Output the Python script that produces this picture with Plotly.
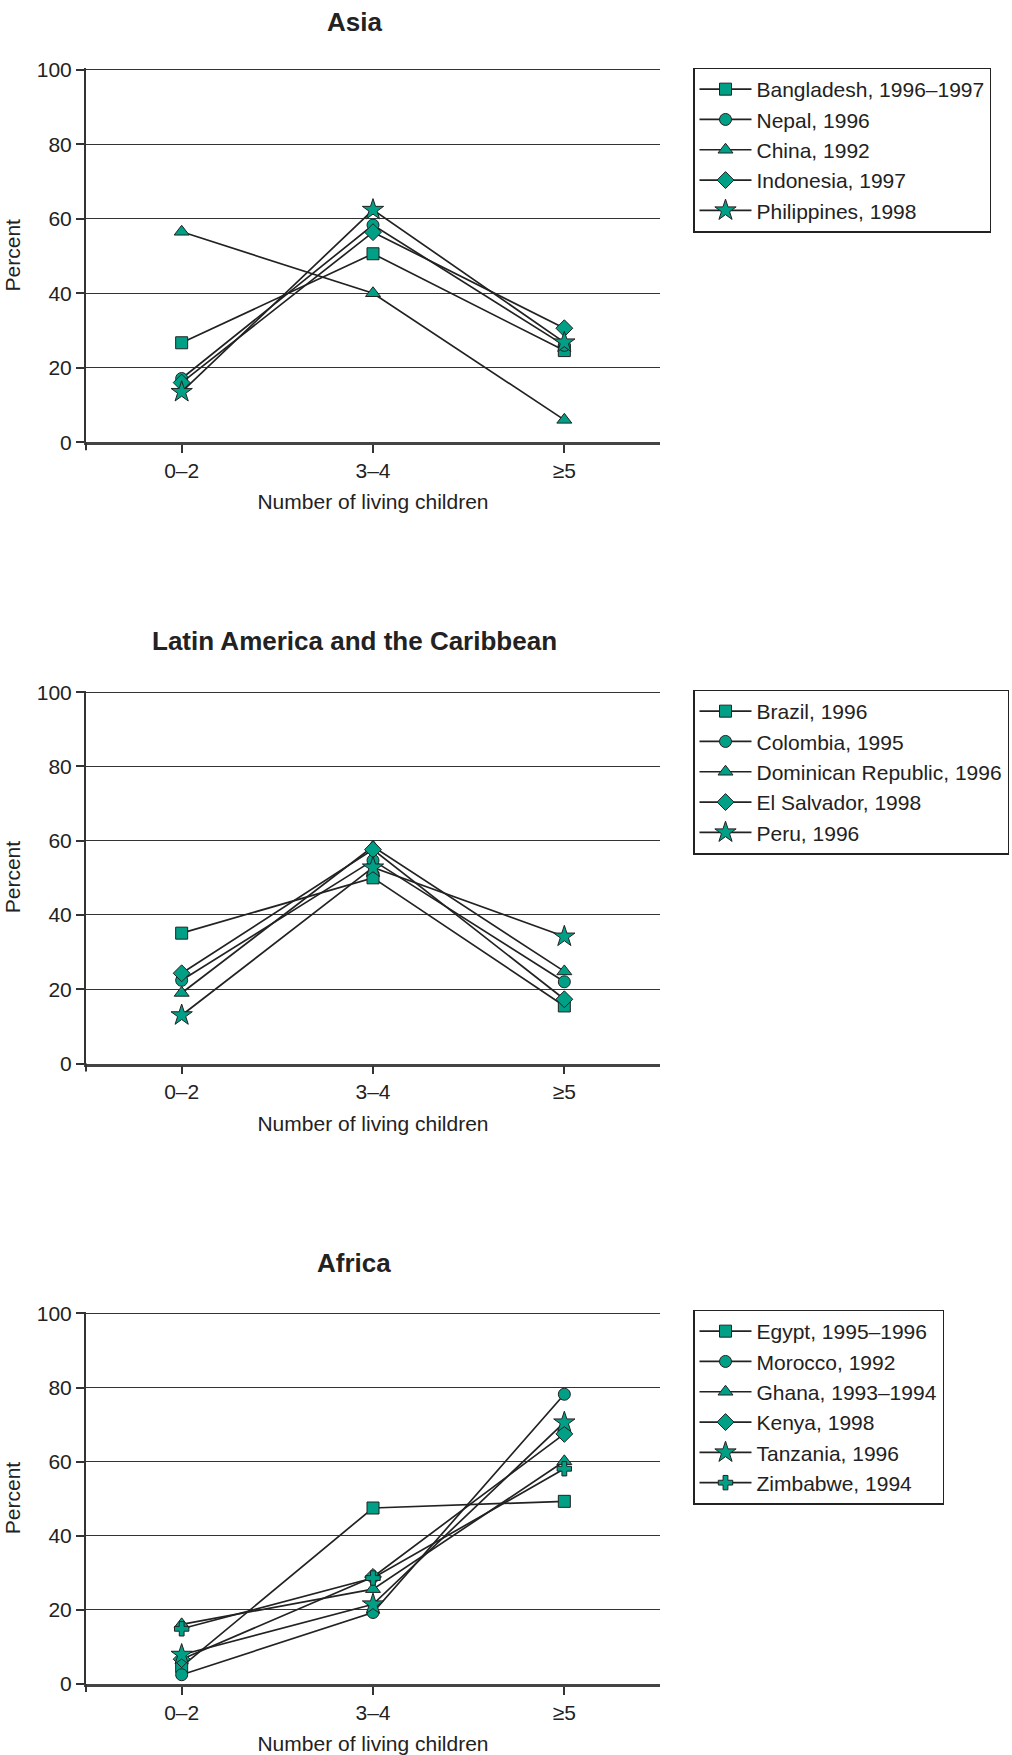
import plotly.graph_objects as go

# ---------------- data ----------------
categories = ["0–2", "3–4", "≥5"]

asia_title = "Asia"
asia_names = ["Bangladesh, 1996–1997", "Nepal, 1996", "China, 1992", "Indonesia, 1997", "Philippines, 1998"]
asia_bangladesh = [26.7, 50.6, 24.6]
asia_nepal = [17.1, 58.3, 26.0]
asia_china = [56.5, 40.0, 6.0]
asia_indonesia = [16.0, 56.4, 30.6]
asia_philippines = [13.5, 62.4, 26.8]

latam_title = "Latin America and the Caribbean"
latam_names = ["Brazil, 1996", "Colombia, 1995", "Dominican Republic, 1996", "El Salvador, 1998", "Peru, 1996"]
latam_brazil = [35.1, 50.0, 15.5]
latam_colombia = [22.4, 54.7, 22.0]
latam_dominican = [19.0, 58.4, 24.8]
latam_elsalvador = [24.3, 57.6, 17.3]
latam_peru = [13.0, 52.8, 34.2]

africa_title = "Africa"
africa_names = ["Egypt, 1995–1996", "Morocco, 1992", "Ghana, 1993–1994", "Kenya, 1998", "Tanzania, 1996", "Zimbabwe, 1994"]
africa_egypt = [4.7, 47.5, 49.3]
africa_morocco = [2.5, 19.3, 78.2]
africa_ghana = [16.1, 25.6, 60.1]
africa_kenya = [6.7, 28.9, 67.5]
africa_tanzania = [7.9, 21.5, 70.6]
africa_zimbabwe = [14.9, 28.6, 58.1]

x_title = "Number of living children"
y_title = "Percent"
y_ticks = [0, 20, 40, 60, 80, 100]

# ---------------- styling ----------------
W, H = 1012, 1755
FONT = "Arial, Liberation Sans, Helvetica, sans-serif"
TEAL = "#00a086"
INK = "#222222"

symbols = ["square", "circle", "triangle-up", "diamond", "star", "cross"]
sizes = [12, 12, 13, 13, 16, 12]

panels = [
    dict(title=asia_title, names=asia_names,
         series=[asia_bangladesh, asia_nepal, asia_china, asia_indonesia, asia_philippines],
         top=68.3, bottom=442.2, title_y=21.5, legend_top=67.5),
    dict(title=latam_title, names=latam_names,
         series=[latam_brazil, latam_colombia, latam_dominican, latam_elsalvador, latam_peru],
         top=690.7, bottom=1063.5, title_y=641.5, legend_top=689.5),
    dict(title=africa_title, names=africa_names,
         series=[africa_egypt, africa_morocco, africa_ghana, africa_kenya, africa_tanzania, africa_zimbabwe],
         top=1312.0, bottom=1684.0, title_y=1263.0, legend_top=1309.5),
]

plot_left, plot_right = 86.0, 660.0
legend_left = 693.0

fig = go.Figure()
annotations = []
shapes = []

for i, p in enumerate(panels, start=1):
    xa = "x" if i == 1 else f"x{i}"
    ya = "y" if i == 1 else f"y{i}"
    lg = "legend" if i == 1 else f"legend{i}"
    for j, (name, vals) in enumerate(zip(p["names"], p["series"])):
        fig.add_trace(go.Scatter(
            x=categories, y=vals, name=name, mode="lines+markers",
            xaxis=xa, yaxis=ya, legend=lg,
            line=dict(color=INK, width=1.7),
            marker=dict(symbol=symbols[j], size=sizes[j], color=TEAL,
                        line=dict(color=INK, width=1)),
        ))

    ydom = [1 - p["bottom"] / H, 1 - p["top"] / H]
    xdom = [plot_left / W, plot_right / W]
    axis_suffix = "" if i == 1 else str(i)

    fig.layout[f"xaxis{axis_suffix}"] = dict(
        domain=xdom, anchor=ya, type="category", categoryorder="array",
        categoryarray=categories, range=[-0.5, 2.5], automargin=False,
        showgrid=False, zeroline=False,
        showline=True, linecolor="#444444", linewidth=2.5,
        ticks="outside", ticklen=8, tickwidth=1.5, tickcolor="#333333",
        tickfont=dict(family=FONT, size=21, color=INK),
        title=dict(text=x_title, font=dict(family=FONT, size=21, color=INK), standoff=14),
        fixedrange=True,
    )
    fig.layout[f"yaxis{axis_suffix}"] = dict(
        domain=ydom, anchor=xa, range=[0, 100.4], tickvals=y_ticks, automargin=False,
        showgrid=True, gridcolor="#333333", gridwidth=1.4,
        zeroline=False,
        showline=True, linecolor="#333333", linewidth=2,
        ticks="outside", ticklen=8, tickwidth=1.5, tickcolor="#333333",
        tickfont=dict(family=FONT, size=21, color=INK),
        title=dict(text=y_title, font=dict(family=FONT, size=21, color=INK), standoff=10),
        fixedrange=True,
    )

    # left-edge tick extension below the x axis
    shapes.append(dict(
        type="line", xref=f"{xa} domain", yref=f"{ya} domain",
        x0=0, x1=0, y0=0, y1=-8 / (p["bottom"] - p["top"]),
        line=dict(color="#333333", width=2),
    ))

    annotations.append(dict(
        text=f"<b>{p['title']}</b>", xref="paper", yref="paper",
        x=354 / W, y=1 - p["title_y"] / H, xanchor="center", yanchor="middle",
        showarrow=False, font=dict(family=FONT, size=26, color=INK),
    ))

    fig.layout[lg] = dict(
        x=legend_left / W, y=1 - p["legend_top"] / H, xanchor="left", yanchor="top",
        bgcolor="white", bordercolor=INK, borderwidth=1.5,
        font=dict(family=FONT, size=21, color=INK),
        itemwidth=52,
    )

fig.update_layout(
    width=W, height=H,
    margin=dict(l=0, r=0, t=0, b=0, autoexpand=False),
    paper_bgcolor="white", plot_bgcolor="white",
    showlegend=True,
    annotations=annotations,
    shapes=shapes,
)

fig.write_html("out.html")
